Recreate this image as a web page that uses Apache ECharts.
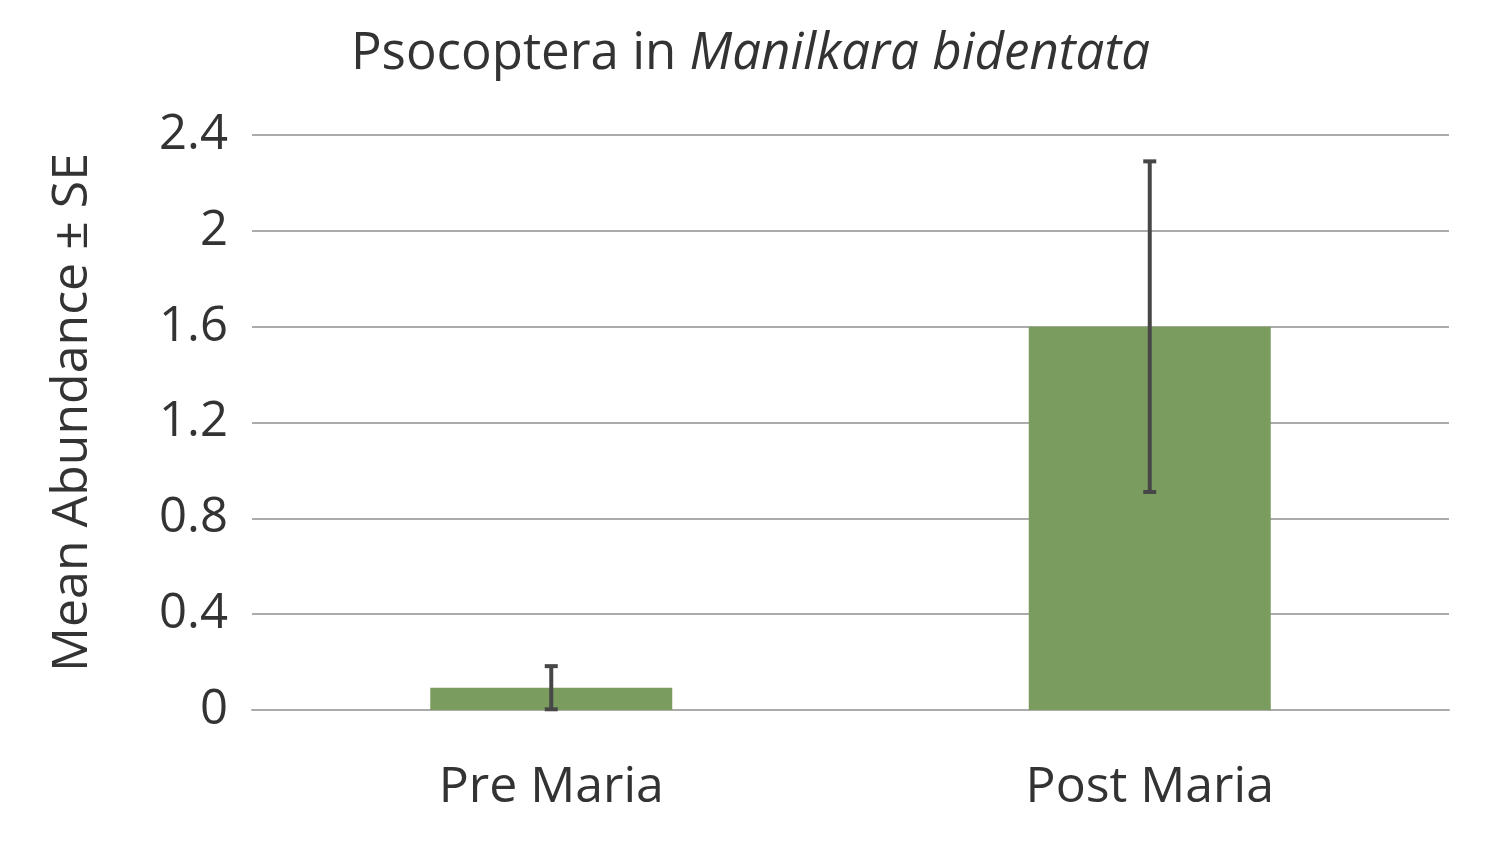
<!DOCTYPE html>
<html>
<head>
<meta charset="utf-8">
<script src="https://cdn.jsdelivr.net/npm/echarts@6/dist/echarts.min.js"></script>
<style>html,body{margin:0;padding:0;background:#fff}#c{width:1501px;height:842px}</style>
</head>
<body>
<div id="c"></div>
<script>
var categories = ['Pre Maria', 'Post Maria'];
var means = [0.093, 1.6];
var se = [0.09, 0.69];
var yTicks = [0, 0.4, 0.8, 1.2, 1.6, 2, 2.4];

var FONT = '"Open Sans", "Noto Sans", sans-serif';
var chart = echarts.init(document.getElementById('c'));
var errData = categories.map(function (c, i) { return [i, means[i] - se[i], means[i] + se[i]]; });

chart.setOption({
  animation: false,
  backgroundColor: '#fff',
  title: {
    text: 'Psocoptera in {i|Manilkara bidentata}',
    left: 'center',
    top: 24,
    textStyle: {
      fontFamily: FONT, fontSize: 51, fontWeight: 'normal', color: '#333',
      rich: { i: { fontFamily: FONT, fontSize: 51, fontStyle: 'italic', color: '#333' } }
    }
  },
  grid: { left: 252, right: 52, top: 135, bottom: 132, containLabel: false },
  xAxis: {
    type: 'category',
    data: categories,
    axisLine: { show: true, lineStyle: { color: '#ababab', width: 2 } },
    axisTick: { show: false },
    axisLabel: { fontFamily: FONT, fontSize: 50, color: '#333', margin: 53 }
  },
  yAxis: {
    type: 'value',
    min: 0, max: 2.4, interval: 0.4,
    name: 'Mean Abundance ± SE',
    nameLocation: 'middle',
    nameGap: 154,
    nameTextStyle: { fontFamily: FONT, fontSize: 50, color: '#333', padding: [0, 0, 0, 20] },
    axisLine: { show: false },
    axisTick: { show: false },
    splitLine: { lineStyle: { color: '#ababab', width: 2 } },
    axisLabel: {
      fontFamily: FONT, fontSize: 49, color: '#333', margin: 24,
      formatter: function (v) {
        for (var k = 0; k < yTicks.length; k++) if (Math.abs(yTicks[k] - v) < 1e-9) return String(yTicks[k]);
        return '';
      }
    }
  },
  series: [
    {
      type: 'bar',
      data: means,
      barWidth: 242,
      itemStyle: { color: '#7a9c5f' },
      z: 2
    },
    {
      type: 'custom',
      data: errData,
      z: 3,
      renderItem: function (params, api) {
        var x = api.coord([api.value(0), 0])[0];
        var lo = api.coord([api.value(0), api.value(1)])[1];
        var hi = api.coord([api.value(0), api.value(2)])[1];
        var cw = 6.5;
        var st = { stroke: '#474747', lineWidth: 4 };
        return {
          type: 'group',
          children: [
            { type: 'line', shape: { x1: x, y1: hi, x2: x, y2: lo }, style: st },
            { type: 'line', shape: { x1: x - cw, y1: hi, x2: x + cw, y2: hi }, style: st },
            { type: 'line', shape: { x1: x - cw, y1: lo, x2: x + cw, y2: lo }, style: st }
          ]
        };
      }
    }
  ]
});
</script>
</body>
</html>
